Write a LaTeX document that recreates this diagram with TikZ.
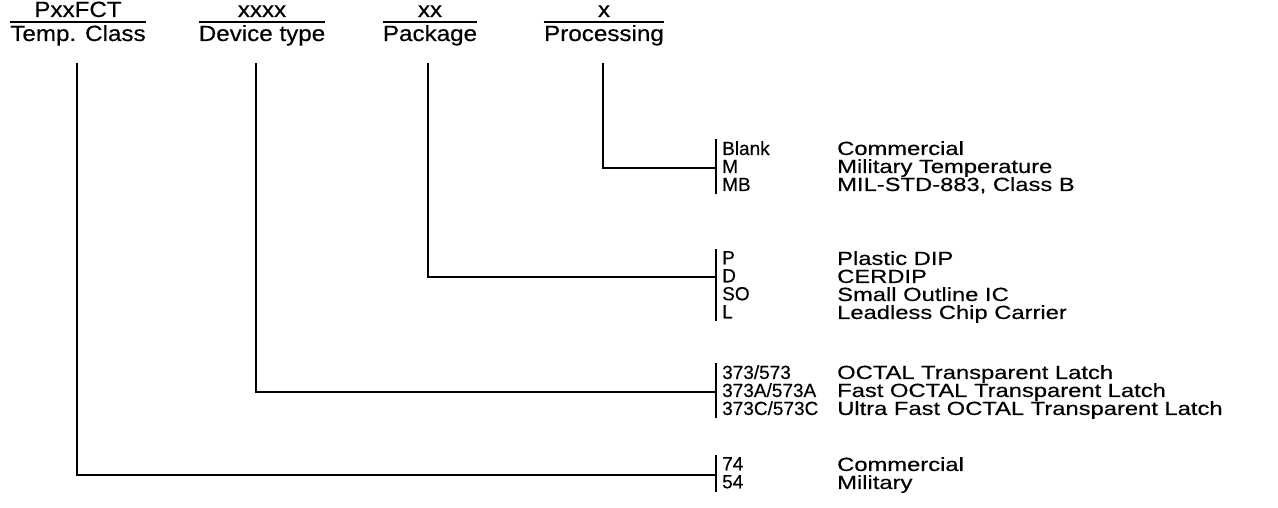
\documentclass[tikz,border=0pt]{standalone}
\usepackage{fontspec}
\setmainfont[FakeBold=0.4]{Liberation Sans}
\newfontfamily\hdrfont[FakeStretch=1.1,FakeBold=0.4]{Liberation Sans}
\newfontfamily\descfont[FakeStretch=1.25,FakeBold=0.4]{Liberation Sans}
\begin{document}
\begin{tikzpicture}[x=1pt,y=-1pt,
  hdr/.style={font=\hdrfont\fontsize{22}{22}\selectfont, inner sep=0pt, anchor=base},
  lst/.style={font=\fontsize{19}{18}\selectfont, inner sep=0pt, align=left, anchor=north west},
  dsc/.style={lst, font=\descfont\fontsize{19}{18}\selectfont},
  ln/.style={line width=1.8pt},
  ul/.style={line width=1.5pt},
]
\useasboundingbox (0,0) rectangle (1278,508);
% headers
\node[hdr] (h1t) at (78,17) {PxxFCT};
\node[hdr] (h1b) at (78,41) {Temp. Class};
\node[hdr] (h2t) at (262,17) {xxxx};
\node[hdr] (h2b) at (262,41) {Device type};
\node[hdr] (h3t) at (430,17) {xx};
\node[hdr] (h3b) at (430,41) {Package};
\node[hdr] (h4t) at (604,17) {x};
\node[hdr] (h4b) at (604,41) {Processing};
\foreach \h in {h1b,h2b,h3b,h4b}
  \draw[ul] ([yshift=3pt]\h.north west) -- ([yshift=3pt]\h.north east);
% code lists
\node[lst] (c4) at (722,141) {Blank\\M\\MB};
\node[dsc] (d4) at (837,141) {Commercial\\Military Temperature\\MIL-STD-883, Class B};
\node[lst] (c3) at (722,251) {P\\D\\SO\\L};
\node[dsc] (d3) at (837,251) {Plastic DIP\\CERDIP\\Small Outline IC\\Leadless Chip Carrier};
\node[lst] (c2) at (722,365) {373/573\\373A/573A\\373C/573C};
\node[dsc] (d2) at (837,365) {OCTAL Transparent Latch\\Fast OCTAL Transparent Latch\\Ultra Fast OCTAL Transparent Latch};
\node[lst] (c1) at (722,457) {74\\54};
\node[dsc] (d1) at (837,457) {Commercial\\Military};
% brackets
\foreach \c in {c1,c2,c3,c4}
  \draw[ln] ([shift={(-6pt,2pt)}]\c.north west) -- ([shift={(-6pt,-3pt)}]\c.south west);
% connector coordinates
\coordinate (v1) at (77,63);
\coordinate (v2) at (256,63);
\coordinate (v3) at (428,63);
\coordinate (v4) at (603,63);
\coordinate (b1) at (716,475);
\coordinate (b2) at (716,392);
\coordinate (b3) at (716,277);
\coordinate (b4) at (716,168);
\draw[ln] (v1) |- (b1);
\draw[ln] (v2) |- (b2);
\draw[ln] (v3) |- (b3);
\draw[ln] (v4) |- (b4);
\end{tikzpicture}
\end{document}
